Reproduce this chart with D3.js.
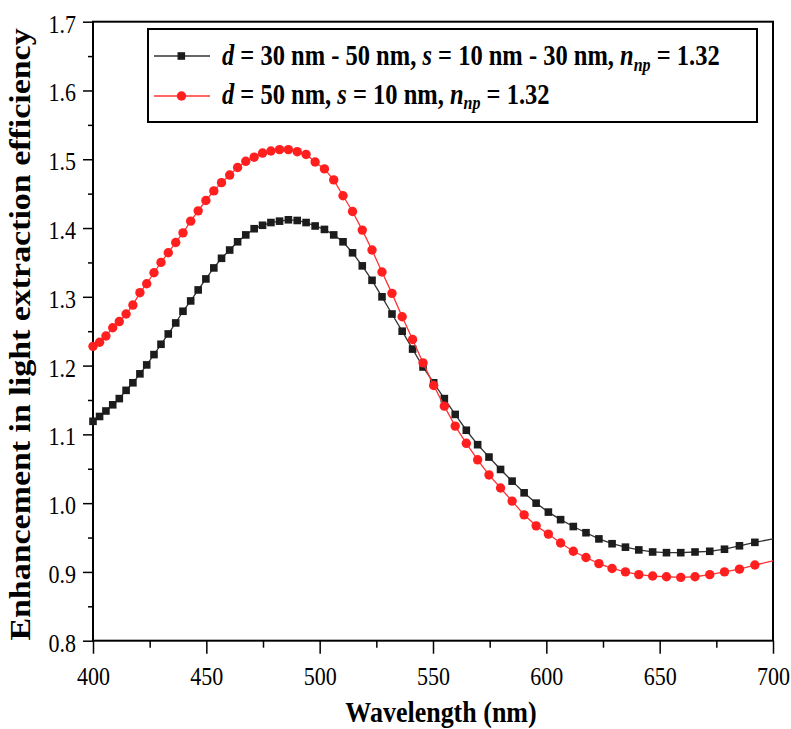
<!DOCTYPE html>
<html>
  <head>
    <meta charset="utf-8">
    <script src="https://d3js.org/d3.v7.min.js"></script>
    <title>Enhancement in light extraction efficiency</title>
    <style>
      body { margin: 0; background: #fff; }
      text { font-family: 'Liberation Serif', 'Times New Roman', serif; fill: #000; }
    </style>
  </head>
  <body>
    <svg width="791" height="729"></svg>
    <script>
      // Data (wavelength in nm, enhancement factor)
      const wavelength = [
        400.0, 402.9, 405.7, 408.7, 411.6, 414.6, 417.6, 420.7, 423.7, 426.9,
        430.0, 433.2, 436.5, 439.7, 443.1, 446.4, 449.8, 453.3, 456.7, 460.3,
        463.8, 467.4, 471.1, 474.8, 478.5, 482.3, 486.2, 490.1, 494.0, 498.0,
        502.1, 506.2, 510.3, 514.5, 518.8, 523.1, 527.5, 531.9, 536.4, 541.0,
        545.6, 550.3, 555.0, 559.8, 564.7, 569.7, 574.7, 579.8, 584.9, 590.2,
        595.5, 600.9, 606.3, 611.9, 617.5, 623.2, 629.0, 634.9, 640.8, 646.9,
        653.0, 659.3, 665.6, 672.1, 678.6, 685.2, 692.0, 700.0
      ];
      // d = 30-50 nm, s = 10-30 nm (black squares)
      const enhMixed = [
        1.119, 1.126, 1.134, 1.143, 1.152, 1.164, 1.175, 1.188, 1.201, 1.216,
        1.231, 1.246, 1.262, 1.279, 1.294, 1.310, 1.326, 1.342, 1.356, 1.368,
        1.380, 1.390, 1.399, 1.404, 1.408, 1.410, 1.412, 1.411, 1.408, 1.403,
        1.398, 1.390, 1.380, 1.364, 1.345, 1.324, 1.300, 1.275, 1.250, 1.224,
        1.198, 1.175, 1.152, 1.129, 1.106, 1.085, 1.067, 1.049, 1.032, 1.015,
        1.000, 0.987, 0.976, 0.966, 0.957, 0.948, 0.941, 0.936, 0.932, 0.929,
        0.928, 0.928, 0.929, 0.930, 0.933, 0.938, 0.943, 0.948
      ];
      // d = 50 nm, s = 10 nm (red circles)
      const enhUniform = [
        1.228, 1.234, 1.243, 1.255, 1.264, 1.275, 1.288, 1.306, 1.319, 1.335,
        1.350, 1.364, 1.379, 1.393, 1.410, 1.425, 1.440, 1.454, 1.466, 1.477,
        1.488, 1.497, 1.503, 1.509, 1.512, 1.514, 1.514, 1.511, 1.507, 1.496,
        1.486, 1.470, 1.447, 1.424, 1.397, 1.368, 1.336, 1.305, 1.271, 1.238,
        1.204, 1.171, 1.141, 1.112, 1.087, 1.063, 1.041, 1.022, 1.003, 0.983,
        0.967, 0.955, 0.942, 0.930, 0.921, 0.912, 0.905, 0.900, 0.896, 0.894,
        0.893, 0.892, 0.893, 0.896, 0.900, 0.904, 0.910, 0.916
      ];

      const xTicks = [400, 450, 500, 550, 600, 650, 700];
      const xMinor = [425, 475, 525, 575, 625, 675];
      const yTicks = [0.8, 0.9, 1.0, 1.1, 1.2, 1.3, 1.4, 1.5, 1.6, 1.7];
      const yMinor = [0.85, 0.95, 1.05, 1.15, 1.25, 1.35, 1.45, 1.55, 1.65];

      const svg = d3.select('svg');
      const stretch = 1.17; // the original figure is a little taller than wide

      const xScale = d3.scaleLinear().domain([400, 700]).range([93, 773]);
      const yScale = d3.scaleLinear().domain([0.8, 1.7]).range([640.7, 21.7]);

      // minor ticks
      svg.append('g')
        .attr('transform', 'translate(0,640.7)')
        .call(d3.axisBottom(xScale).tickValues(xMinor).tickSize(7).tickFormat(''))
        .call(g => g.select('.domain').remove());
      svg.append('g')
        .attr('transform', 'translate(93,0)')
        .call(d3.axisLeft(yScale).tickValues(yMinor).tickSize(5).tickFormat(''))
        .call(g => g.select('.domain').remove());

      // major ticks + labels
      const xAxis = svg.append('g')
        .attr('transform', 'translate(0,640.7)')
        .call(d3.axisBottom(xScale).tickValues(xTicks).tickSize(13).tickFormat(d3.format('d')))
        .call(g => g.select('.domain').remove());
      xAxis.selectAll('text')
        .attr('y', 0).attr('dy', 0)
        .attr('transform', `translate(0,44) scale(1,${stretch})`)
        .attr('font-size', 22);

      const yAxis = svg.append('g')
        .attr('transform', 'translate(93,0)')
        .call(d3.axisLeft(yScale).tickValues(yTicks).tickSize(10).tickFormat(d3.format('.1f')))
        .call(g => g.select('.domain').remove());
      yAxis.selectAll('text')
        .attr('x', 0).attr('dy', 0)
        .attr('transform', `translate(-17,10.5) scale(1,${stretch})`)
        .attr('font-size', 22);

      svg.selectAll('.tick line').attr('stroke', '#000').attr('stroke-width', 1.5);

      // frame
      svg.append('rect')
        .attr('x', xScale(400)).attr('y', yScale(1.7))
        .attr('width', xScale(700) - xScale(400))
        .attr('height', yScale(0.8) - yScale(1.7))
        .attr('fill', 'none').attr('stroke', '#000').attr('stroke-width', 2);

      // series
      const mixed = wavelength.map((w, i) => ({ x: w, y: enhMixed[i] }));
      const uniform = wavelength.map((w, i) => ({ x: w, y: enhUniform[i] }));
      const line = d3.line().x(d => xScale(d.x)).y(d => yScale(d.y));

      svg.append('path').datum(mixed)
        .attr('d', line).attr('fill', 'none')
        .attr('stroke', '#333').attr('stroke-width', 1.3);
      svg.selectAll('rect.sq').data(mixed.filter(d => d.x < 699))
        .enter().append('rect')
          .attr('class', 'sq')
          .attr('x', d => xScale(d.x) - 3.8)
          .attr('y', d => yScale(d.y) - 3.8)
          .attr('width', 7.6).attr('height', 7.6)
          .attr('fill', '#1c1c1c');

      svg.append('path').datum(uniform)
        .attr('d', line).attr('fill', 'none')
        .attr('stroke', '#ff3333').attr('stroke-width', 1.3);
      svg.selectAll('circle.dot').data(uniform.filter(d => d.x < 699))
        .enter().append('circle')
          .attr('class', 'dot')
          .attr('cx', d => xScale(d.x))
          .attr('cy', d => yScale(d.y))
          .attr('r', 4.7)
          .attr('fill', '#ff1f1f');

      // legend
      const legend = svg.append('g');
      legend.append('rect')
        .attr('x', 148).attr('y', 29).attr('width', 609).attr('height', 93)
        .attr('fill', '#fff').attr('stroke', '#000').attr('stroke-width', 2);
      legend.append('line').attr('x1', 154).attr('x2', 210).attr('y1', 56).attr('y2', 56)
        .attr('stroke', '#333').attr('stroke-width', 1.3);
      legend.append('rect').attr('x', 177.5).attr('y', 52.2).attr('width', 7.6).attr('height', 7.6)
        .attr('fill', '#1c1c1c');
      legend.append('line').attr('x1', 154).attr('x2', 210).attr('y1', 96).attr('y2', 96)
        .attr('stroke', '#ff3333').attr('stroke-width', 1.3);
      legend.append('circle').attr('cx', 181.5).attr('cy', 96).attr('r', 4.7).attr('fill', '#ff1f1f');

      // each piece: [text, style] with style 'i' italic, 'sub' italic subscript, '' plain
      const legendRows = [
        [['d', 'i'], [' = 30 nm - 50 nm, ', ''], ['s', 'i'], [' = 10 nm - 30 nm, ', ''], ['n', 'i'], ['np', 'sub'], [' = 1.32', '']],
        [['d', 'i'], [' = 50 nm, ', ''], ['s', 'i'], [' = 10 nm, ', ''], ['n', 'i'], ['np', 'sub'], [' = 1.32', '']]
      ];
      const legendBase = [65, 103.5];

      legendRows.forEach((row, r) => {
        const t = legend.append('text')
          .attr('transform', `translate(222,${legendBase[r]}) scale(1,${stretch})`)
          .attr('font-size', 24.5).attr('font-weight', 'bold');
        row.forEach(([s, kind], i) => {
          const ts = t.append('tspan').text(s);
          if (kind === 'i') ts.attr('font-style', 'italic');
          if (kind === 'sub') ts.attr('font-style', 'italic').attr('font-size', 16).attr('dy', 5);
          else if (i > 0 && row[i - 1][1] === 'sub') ts.attr('dy', -5);
        });
      });

      // axis titles
      svg.append('text')
        .attr('transform', `translate(441,722) scale(1,${stretch})`)
        .attr('text-anchor', 'middle')
        .attr('font-size', 26).attr('font-weight', 'bold')
        .text('Wavelength (nm)');

      svg.append('text')
        .attr('transform', `translate(30,334.5) rotate(-90) scale(${stretch},1)`)
        .attr('text-anchor', 'middle')
        .attr('font-size', 29).attr('font-weight', 'bold')
        .text('Enhancement in light extraction efficiency');
    </script>
  </body>
</html>
